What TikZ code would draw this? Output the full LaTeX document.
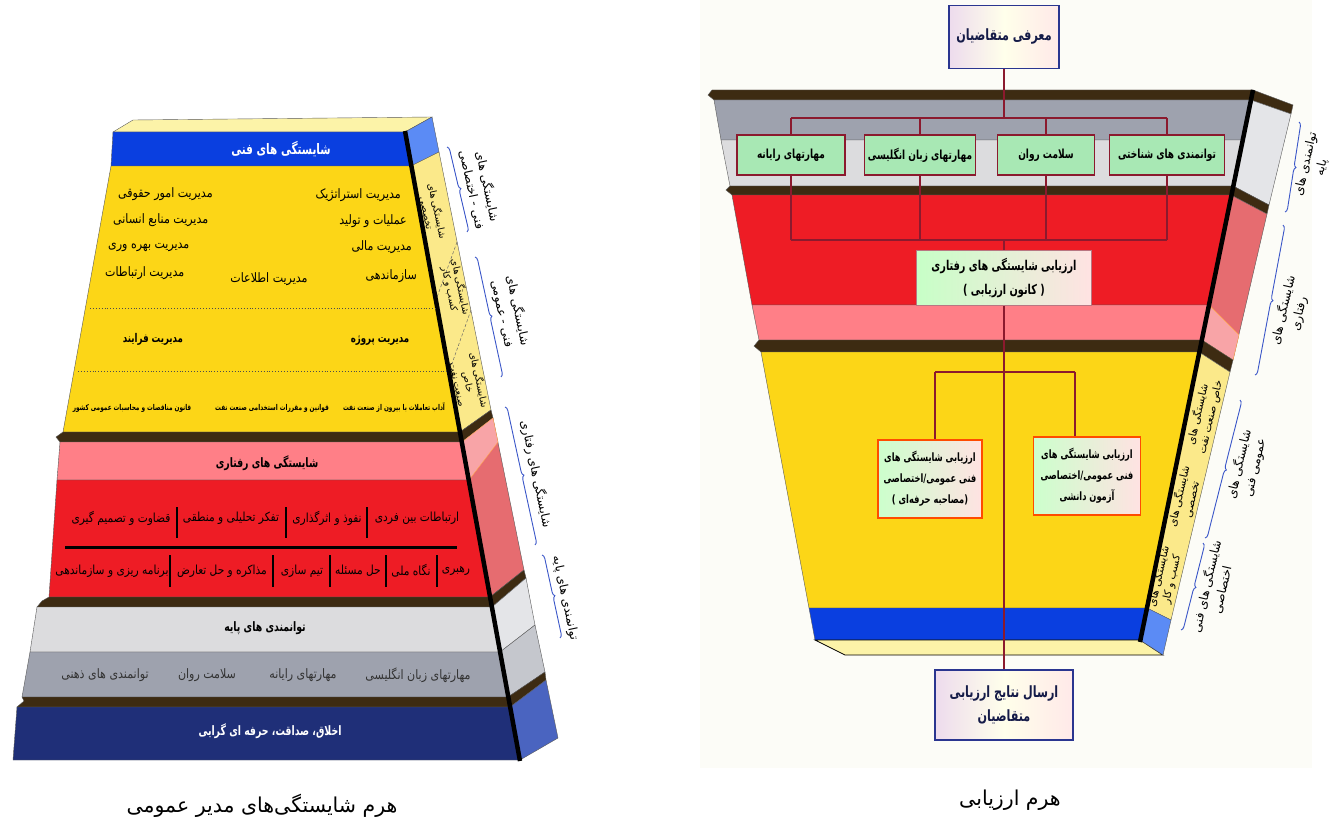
\documentclass[tikz,border=0pt]{standalone}
\usepackage{fontspec}
\usepackage{tikz}
\usetikzlibrary{decorations.pathreplacing}
\TeXXeTstate=1
\newfontfamily\farsi[Script=Arabic,FakeStretch=0.85]{DejaVu Sans}
\newfontfamily\farsin[Script=Arabic,FakeStretch=0.72]{DejaVu Sans}
\newfontfamily\farsiwide[Script=Arabic]{DejaVu Sans}
\newcommand{\FA}[1]{\beginR #1\endR}
\newcommand{\sz}[2]{\fontsize{#1}{#2}\selectfont}

\definecolor{slab}{HTML}{3D2B12}
\definecolor{techblue}{HTML}{0A3FE0}
\definecolor{gold}{HTML}{FCD617}
\definecolor{palegold}{HTML}{FBE98A}
\definecolor{capgold}{HTML}{FCF3A8}
\definecolor{sideblue}{HTML}{5B8BF5}
\definecolor{behpink}{HTML}{FF7F87}
\definecolor{behred}{HTML}{EE1C25}
\definecolor{sidered}{HTML}{E66C70}
\definecolor{sidepink}{HTML}{F8A4A7}
\definecolor{basegray}{HTML}{DCDCDE}
\definecolor{basedark}{HTML}{9EA2AE}
\definecolor{sidegray}{HTML}{E4E5E8}
\definecolor{sidedark}{HTML}{C5C7CD}
\definecolor{ethnavy}{HTML}{1F2F78}
\definecolor{sidenavy}{HTML}{4A64C0}
\definecolor{wire}{HTML}{8B1A2E}
\definecolor{bracecol}{HTML}{3A56C8}
\definecolor{boxnavy}{HTML}{2A3590}
\definecolor{mint}{HTML}{A8E8B4}
\definecolor{paper}{HTML}{FCFCF7}

\tikzset{
  layer/.style={draw=black!65,line width=0.4pt},
  edge/.style={line width=4.5pt},
  sep/.style={line width=1.5pt},
  wire/.style={draw=wire,line width=2.4pt},
  curly/.style={decorate,decoration={brace,amplitude=4pt},draw=bracecol,line width=0.9pt},
  dashline/.style={densely dashed,draw=black!60,line width=0.5pt},
  dotline/.style={dotted,line width=0.9pt,draw=black!70},
  body/.style={font=\farsi\sz{13}{16},inner sep=1pt},
  row/.style={font=\farsi\sz{12.5}{16},inner sep=1pt},
  bodyb/.style={font=\farsin\bfseries\sz{12}{15},inner sep=1pt},
  tinyb/.style={font=\farsin\bfseries\sz{8}{10},inner sep=1pt},
  title/.style={font=\farsin\bfseries\sz{13}{16},inner sep=1pt},
  lsidelbl/.style={font=\farsiwide\sz{9.5}{11},align=center,inner sep=0pt},
  rsidelbl/.style={font=\farsiwide\sz{10.5}{13},align=center,inner sep=0pt},
  outlbl/.style={font=\farsiwide\sz{12}{16},align=center,inner sep=0pt},
  caption/.style={font=\farsiwide\sz{20.5}{24},inner sep=1pt},
  introbox/.style={draw=boxnavy,line width=1.6pt,left color=violet!14,right color=pink!35,middle color=yellow!8,
    font=\farsin\bfseries\sz{15.5}{24},text=boxnavy!50!black,align=center,minimum width=110pt,minimum height=63pt},
  skillbox/.style={draw=wire,line width=1.6pt,fill=mint,font=\farsin\bfseries\sz{12.5}{15},minimum height=40pt,inner sep=2pt},
  evalbox/.style={draw=wire!60,line width=0.8pt,left color=green!22,right color=pink!45,
    font=\farsin\bfseries\sz{13.5}{24},align=center,minimum width=175pt,minimum height=55pt},
  techbox/.style={draw=orange!60!red,line width=1.4pt,left color=green!20,right color=pink!45,
    font=\farsin\bfseries\sz{11.5}{21},align=center,minimum height=78pt}
}

\begin{document}
\begin{tikzpicture}[x=1pt,y=-1pt]
  \useasboundingbox (0,0) rectangle (1335,824);
  \fill[paper] (700,0) rectangle (1312,768);

  %% left pyramid, front layers
  \filldraw[layer,fill=capgold] (113,132) -- (133,120) -- (432,117) -- (405,132) -- cycle;
  \filldraw[layer,fill=techblue] (113,132) -- (405,132) -- (411,166) -- (111,166) -- cycle;
  \filldraw[layer,fill=gold] (111,166) -- (411,166) -- (460,432) -- (63,432) -- cycle;
  \filldraw[layer,fill=slab] (63,432) -- (460,432) -- (462,442) -- (60,442) -- (56,437) -- cycle;
  \filldraw[layer,fill=behpink] (60,442) -- (462,442) -- (469,480) -- (57,480) -- cycle;
  \filldraw[layer,fill=behred] (57,480) -- (469,480) -- (490,597) -- (49,597) -- cycle;
  \filldraw[layer,fill=slab] (49,597) -- (490,597) -- (492,607) -- (37,607) -- (42,601) -- cycle;
  \filldraw[layer,fill=basegray] (37,607) -- (492,607) -- (500,652) -- (30,652) -- cycle;
  \filldraw[layer,fill=basedark] (30,652) -- (500,652) -- (508,697) -- (22,697) -- cycle;
  \filldraw[layer,fill=slab] (22,697) -- (508,697) -- (510,707) -- (17,707) -- (24,701) -- cycle;
  \filldraw[layer,fill=ethnavy] (17,707) -- (510,707) -- (520,760) -- (13,760) -- cycle;

  %% left pyramid, side faces
  \filldraw[layer,fill=sideblue] (405,132) -- (432,117) -- (439,152) -- (411,166) -- cycle;
  \filldraw[layer,fill=palegold] (411,166) -- (439,152) -- (491,410) -- (460,432) -- cycle;
  \filldraw[layer,fill=slab] (460,432) -- (491,410) -- (493,418) -- (462,442) -- cycle;
  \filldraw[layer,fill=sidered] (462,442) -- (493,418) -- (524,570) -- (490,597) -- cycle;
  \filldraw[fill=sidepink,draw=orange!70,line width=0.4pt] (462,442) -- (493,418) -- (498,442) -- (469,480) -- cycle;
  \filldraw[layer,fill=slab] (490,597) -- (524,570) -- (526,578) -- (492,607) -- cycle;
  \filldraw[layer,fill=sidegray] (492,607) -- (526,578) -- (535,625) -- (500,652) -- cycle;
  \filldraw[layer,fill=sidedark] (500,652) -- (535,625) -- (545,672) -- (508,697) -- cycle;
  \filldraw[layer,fill=slab] (508,697) -- (545,672) -- (546,680) -- (510,707) -- cycle;
  \filldraw[layer,fill=sidenavy] (510,707) -- (546,680) -- (558,738) -- (520,760) -- cycle;
  \draw[dashline] (457,242) -- (436,300);
  \draw[dashline] (471,310) -- (449,372);
  \draw[edge] (405,131) -- (520,761);

  %% technical band
  \node[title,font=\farsin\bfseries\sz{14.5}{18},text=white] (lTech) at (281,149) {\FA{شایستگی های فنی}};
  \node[body,anchor=east] (lStrat) at (402,195) {\FA{مدیریت استراتژیک}};
  \node[body,anchor=east] (lOps) at (408,221) {\FA{عملیات و تولید}};
  \node[body,anchor=east] (lFin) at (413,247) {\FA{مدیریت مالی}};
  \node[body,anchor=east] (lOrg) at (418,276) {\FA{سازماندهی}};
  \node[body] (lInfo) at (269,279) {\FA{مدیریت اطلاعات}};
  \node[body,anchor=west] (lLegal) at (117,194) {\FA{مدیریت امور حقوقی}};
  \node[body,anchor=west] (lHR) at (112,220) {\FA{مدیریت منابع انسانی}};
  \node[body,anchor=west] (lProd) at (107,247) {\FA{مدیریت بهره وری}};
  \node[body,anchor=west] (lComm) at (104,273) {\FA{مدیریت ارتباطات}};
  \draw[dotline] (90,308) -- (437,308);
  \node[bodyb] (lProj) at (380,340) {\FA{مدیریت پروژه}};
  \node[bodyb] (lProc) at (153,339) {\FA{مدیریت فرایند}};
  \draw[dotline] (78,371) -- (447,371);
  \node[tinyb] (lEtiq) at (394,408) {\FA{آداب تعاملات با بیرون از صنعت نفت}};
  \node[tinyb] (lRules) at (272,408) {\FA{قوانین و مقررات استخدامی صنعت نفت}};
  \node[tinyb] (lTender) at (132,408) {\FA{قانون مناقصات و محاسبات عمومی کشور}};

  %% behavioural band
  \node[title] (lBeh) at (267,463) {\FA{شایستگی های رفتاری}};
  \node[row] (lInter) at (417,518) {\FA{ارتباطات بین فردی}};
  \node[row] (lInfl) at (327,518) {\FA{نفوذ و اثرگذاری}};
  \node[row] (lThink) at (231,518) {\FA{تفکر تحلیلی و منطقی}};
  \node[row] (lJudge) at (121,518) {\FA{قضاوت و تصمیم گیری}};
  \draw[sep] (367,507) -- (367,538);
  \draw[sep] (286,507) -- (286,538);
  \draw[sep] (177,507) -- (177,538);
  \draw[line width=3pt] (65,547) -- (457,547);
  \node[row] (lLead) at (456,571) {\FA{رهبری}};
  \node[row] (lNat) at (411,571) {\FA{نگاه ملی}};
  \node[row] (lSolve) at (358,571) {\FA{حل مسئله}};
  \node[row] (lTeam) at (302,571) {\FA{تیم سازی}};
  \node[row] (lNego) at (222,571) {\FA{مذاکره و حل تعارض}};
  \node[row] (lPlan) at (112,571) {\FA{برنامه ریزی و سازماندهی}};
  \draw[sep] (437,555) -- (437,587);
  \draw[sep] (386,555) -- (386,587);
  \draw[sep] (330,555) -- (330,587);
  \draw[sep] (273,555) -- (273,587);
  \draw[sep] (170,555) -- (170,587);

  %% base band
  \node[title] (lBase) at (265,628) {\FA{توانمندی های پایه}};
  \node[body,text=black!80] (lEng) at (418,675) {\FA{مهارتهای زبان انگلیسی}};
  \node[body,text=black!80] (lComp) at (303,675) {\FA{مهارتهای رایانه}};
  \node[body,text=black!80] (lPsy) at (207,675) {\FA{سلامت روان}};
  \node[body,text=black!80] (lMind) at (105,675) {\FA{توانمندی های ذهنی}};
  \node[title,text=white] (lEth) at (270,731) {\FA{اخلاق، صداقت، حرفه ای گرایی}};

  %% side labels of the left pyramid
  \node[lsidelbl,rotate=-78] (lsSpec) at (432,212) {\FA{شایستگی های}\\\FA{تخصصی}};
  \node[lsidelbl,rotate=-78] (lsBiz) at (455,288) {\FA{شایستگی های}\\\FA{کسب و کار}};
  \node[lsidelbl,rotate=-78] (lsOil) at (469,382) {\FA{شایستگی های}\\\FA{خاص}\\\FA{صنعت نفت}};
  \draw[curly] (447,147) -- (467,232);
  \node[outlbl,rotate=-78] (loA) at (480,188) {\FA{شایستگی های}\\\FA{فنی - اختصاصی}};
  \draw[curly] (475,257) -- (501,377);
  \node[outlbl,rotate=-78] (loB) at (510,312) {\FA{شایستگی های}\\\FA{فنی - عمومی}};
  \draw[curly] (505,407) -- (535,545);
  \node[outlbl,rotate=-78] (loC) at (536,474) {\FA{شایستگی های رفتاری}};
  \draw[curly] (542,555) -- (560,638);
  \node[outlbl,rotate=-78] (loD) at (565,598) {\FA{توانمندی های پایه}};

  \node[caption] (capL) at (262,806) {\FA{هرم شایستگی‌های مدیر عمومی}};

  %% right pyramid, front layers
  \filldraw[layer,fill=slab] (712,90) -- (1253,90) -- (1251,100) -- (714,100) -- (708,95) -- cycle;
  \filldraw[layer,fill=basedark] (714,100) -- (1251,100) -- (1243,140) -- (721,140) -- cycle;
  \filldraw[layer,fill=basegray] (721,140) -- (1243,140) -- (1233,186) -- (730,186) -- cycle;
  \filldraw[layer,fill=slab] (730,186) -- (1233,186) -- (1231,195) -- (732,195) -- (726,190) -- cycle;
  \filldraw[layer,fill=behred] (732,195) -- (1231,195) -- (1209,305) -- (752,305) -- cycle;
  \filldraw[layer,fill=behpink] (752,305) -- (1209,305) -- (1202,340) -- (759,340) -- cycle;
  \filldraw[layer,fill=slab] (759,340) -- (1202,340) -- (1199,352) -- (761,352) -- (754,346) -- cycle;
  \filldraw[layer,fill=gold] (761,352) -- (1199,352) -- (1147,608) -- (809,608) -- cycle;
  \filldraw[layer,fill=techblue] (809,608) -- (1147,608) -- (1140,640) -- (815,640) -- cycle;
  \filldraw[draw=black,line width=0.8pt,fill=capgold] (815,640) -- (1140,640) -- (1163,655) -- (845,655) -- cycle;

  %% right pyramid, side faces
  \filldraw[layer,fill=slab] (1253,90) -- (1293,105) -- (1291,114) -- (1251,100) -- cycle;
  \filldraw[layer,fill=sidegray] (1251,100) -- (1291,114) -- (1269,205) -- (1233,186) -- cycle;
  \filldraw[layer,fill=slab] (1233,186) -- (1269,205) -- (1267,214) -- (1231,195) -- cycle;
  \filldraw[layer,fill=sidered] (1231,195) -- (1267,214) -- (1233,360) -- (1202,340) -- cycle;
  \filldraw[fill=sidepink,draw=orange!70,line width=0.4pt] (1209,305) -- (1239,335) -- (1233,360) -- (1202,340) -- cycle;
  \filldraw[layer,fill=slab] (1202,340) -- (1233,360) -- (1230,372) -- (1199,352) -- cycle;
  \filldraw[layer,fill=palegold] (1199,352) -- (1230,372) -- (1171,620) -- (1147,608) -- cycle;
  \filldraw[layer,fill=sideblue] (1147,608) -- (1171,620) -- (1163,655) -- (1140,640) -- cycle;
  \draw[edge] (1253,90) -- (1140,642);

  %% side labels of the right pyramid
  \node[rsidelbl,rotate=77] (rsOil) at (1204,416) {\FA{شایستگی های}\\\FA{خاص صنعت نفت}};
  \node[rsidelbl,rotate=77] (rsSpec) at (1185,498) {\FA{شایستگی های}\\\FA{تخصصی}};
  \node[rsidelbl,rotate=77] (rsBiz) at (1165,578) {\FA{شایستگی های}\\\FA{کسب و کار}};
  \draw[curly] (1299,122) -- (1285,212);
  \node[outlbl,rotate=77] (roBase) at (1314,166) {\FA{توانمندی های}\\\FA{پایه}};
  \draw[curly] (1283,225) -- (1255,375);
  \node[outlbl,rotate=77] (roBeh) at (1291,312) {\FA{شایستگی های}\\\FA{رفتاری}};
  \draw[curly] (1240,400) -- (1205,538);
  \node[outlbl,rotate=77] (roGen) at (1247,466) {\FA{شایستگی های}\\\FA{عمومی فنی}};
  \draw[curly] (1203,543) -- (1181,630);
  \node[outlbl,rotate=77] (roSpec) at (1214,588) {\FA{شایستگی های فنی}\\\FA{اختصاصی}};

  %% evaluation flow
  \coordinate (busL) at (791,118);
  \coordinate (busR) at (1167,118);
  \coordinate (lowL) at (791,240);
  \coordinate (lowR) at (1167,240);
  \coordinate (ybusL) at (935,372);
  \coordinate (ybusR) at (1075,372);

  \node[introbox] (intro) at (1004,37) {\FA{معرفی متقاضیان}};
  \node[skillbox,minimum width=108pt] (sComp) at (791,155) {\FA{مهارتهای رایانه}};
  \node[skillbox,minimum width=111pt] (sEng) at (920,155) {\FA{مهارتهای زبان انگلیسی}};
  \node[skillbox,minimum width=97pt] (sPsy) at (1046,155) {\FA{سلامت روان}};
  \node[skillbox,minimum width=115pt] (sCog) at (1167,155) {\FA{توانمندی های شناختی}};
  \node[evalbox] (behav) at (1004,278) {\FA{ارزیابی شایستگی های رفتاری}\\) \FA{کانون ارزیابی} (};
  \node[techbox,minimum width=104pt] (techA) at (930,479) {\FA{ارزیابی شایستگی های}\\\FA{فنی عمومی/اختصاصی}\\) \FA{مصاحبه حرفه‌ای}(};
  \node[techbox,minimum width=107pt] (techB) at (1087,476) {\FA{ارزیابی شایستگی های}\\\FA{فنی عمومی/اختصاصی}\\\FA{آزمون دانشی}};
  \node[introbox,minimum width=138pt,minimum height=70pt] (result) at (1004,705) {\FA{ارسال نتایج ارزیابی}\\\FA{متقاضیان}};

  \draw[wire] (intro.south) -- (intro.south |- busL);
  \draw[wire] (busL) -- (busR);
  \draw[wire] (sComp.north |- busL) -- (sComp.north);
  \draw[wire] (sEng.north |- busL) -- (sEng.north);
  \draw[wire] (sPsy.north |- busL) -- (sPsy.north);
  \draw[wire] (sCog.north |- busL) -- (sCog.north);
  \draw[wire] (sComp.south) -- (lowL);
  \draw[wire] (sEng.south) -- (sEng.south |- lowL);
  \draw[wire] (sPsy.south) -- (sPsy.south |- lowL);
  \draw[wire] (sCog.south) -- (lowR);
  \draw[wire] (lowL) -- (lowR);
  \draw[wire] (behav.north |- lowL) -- (behav.north);
  \draw[wire] (behav.south) -- (result.north);
  \draw[wire] (ybusL) -- (ybusR);
  \draw[wire] (ybusL) -- (ybusL |- techA.north);
  \draw[wire] (ybusR) -- (ybusR |- techB.north);

  \node[caption] (capR) at (1010,800) {\FA{هرم ارزیابی}};
\end{tikzpicture}
\end{document}
